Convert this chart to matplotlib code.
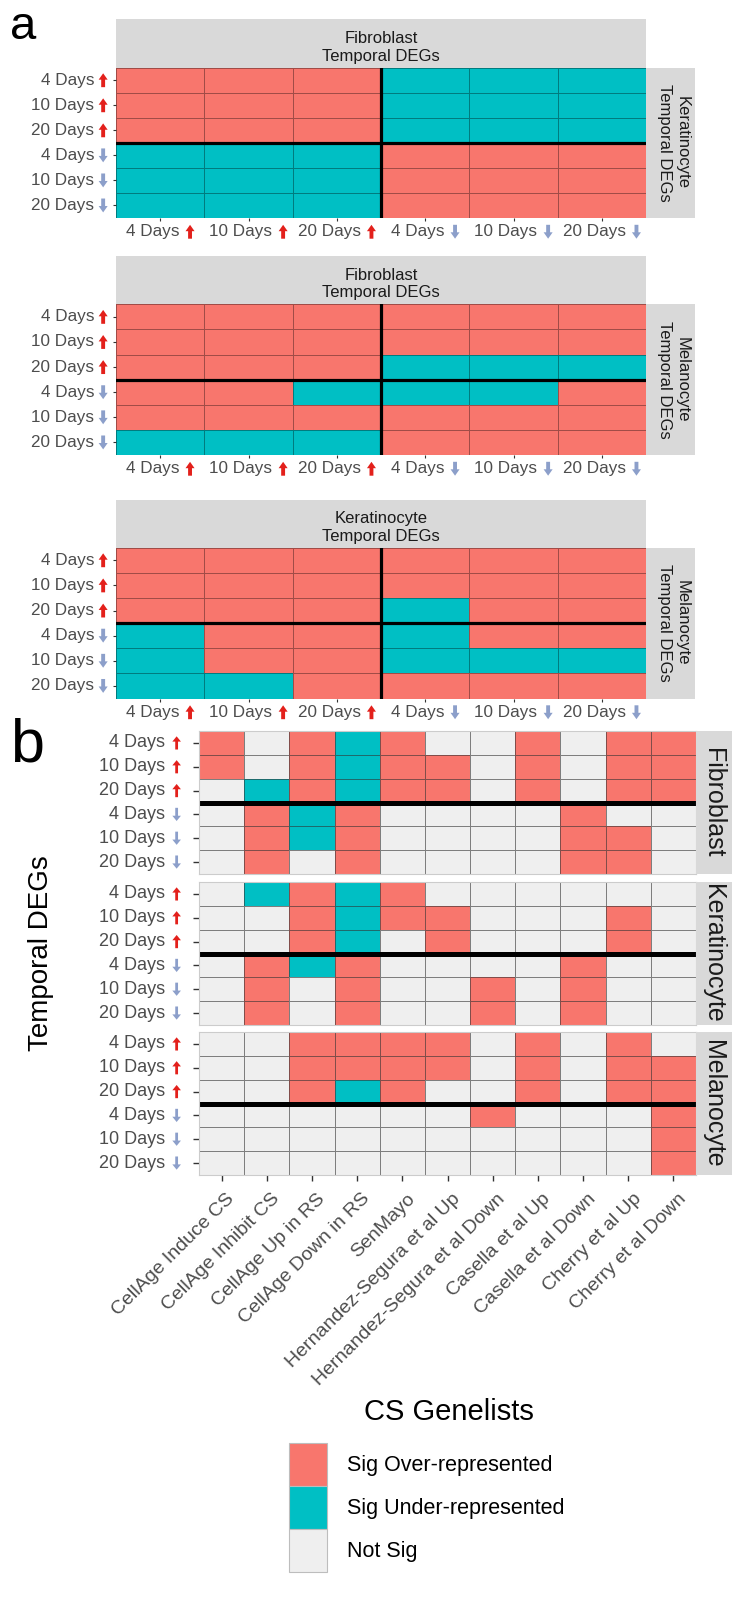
import matplotlib
matplotlib.use('Agg')
import numpy as np
import matplotlib.pyplot as plt
import matplotlib.transforms as mtrans
from matplotlib.colors import ListedColormap, BoundaryNorm
from matplotlib.offsetbox import TextArea, DrawingArea, HPacker, AnnotationBbox
from matplotlib.patches import Polygon, Patch

plt.rcParams['font.family'] = ['Liberation Sans', 'DejaVu Sans']

# ---- data ----
time_labels = ['4 Days', '10 Days', '20 Days', '4 Days', '10 Days', '20 Days']
time_dirs = ['up', 'up', 'up', 'down', 'down', 'down']

# 1 = Sig Over-represented, -1 = Sig Under-represented, 0 = Not Sig
fib_vs_ker = [
    [1, 1, 1, -1, -1, -1],
    [1, 1, 1, -1, -1, -1],
    [1, 1, 1, -1, -1, -1],
    [-1, -1, -1, 1, 1, 1],
    [-1, -1, -1, 1, 1, 1],
    [-1, -1, -1, 1, 1, 1],
]
fib_vs_mel = [
    [1, 1, 1, 1, 1, 1],
    [1, 1, 1, 1, 1, 1],
    [1, 1, 1, -1, -1, -1],
    [1, 1, -1, -1, -1, 1],
    [1, 1, 1, 1, 1, 1],
    [-1, -1, -1, 1, 1, 1],
]
ker_vs_mel = [
    [1, 1, 1, 1, 1, 1],
    [1, 1, 1, 1, 1, 1],
    [1, 1, 1, -1, 1, 1],
    [-1, 1, 1, -1, 1, 1],
    [-1, 1, 1, -1, -1, -1],
    [-1, -1, 1, 1, 1, 1],
]
panel_a = [
    ('Fibroblast\nTemporal DEGs', 'Keratinocyte\nTemporal DEGs', fib_vs_ker),
    ('Fibroblast\nTemporal DEGs', 'Melanocyte\nTemporal DEGs', fib_vs_mel),
    ('Keratinocyte\nTemporal DEGs', 'Melanocyte\nTemporal DEGs', ker_vs_mel),
]

genelists = ['CellAge Induce CS', 'CellAge Inhibit CS', 'CellAge Up in RS',
             'CellAge Down in RS', 'SenMayo', 'Hernandez-Segura et al Up',
             'Hernandez-Segura et al Down', 'Casella et al Up', 'Casella et al Down',
             'Cherry et al Up', 'Cherry et al Down']
fibroblast_cs = [
    [1, 0, 1, -1, 1, 0, 0, 1, 0, 1, 1],
    [1, 0, 1, -1, 1, 1, 0, 1, 0, 1, 1],
    [0, -1, 1, -1, 1, 1, 0, 1, 0, 1, 1],
    [0, 1, -1, 1, 0, 0, 0, 0, 1, 0, 0],
    [0, 1, -1, 1, 0, 0, 0, 0, 1, 1, 0],
    [0, 1, 0, 1, 0, 0, 0, 0, 1, 1, 0],
]
keratinocyte_cs = [
    [0, -1, 1, -1, 1, 0, 0, 0, 0, 0, 0],
    [0, 0, 1, -1, 1, 1, 0, 0, 0, 1, 0],
    [0, 0, 1, -1, 0, 1, 0, 0, 0, 1, 0],
    [0, 1, -1, 1, 0, 0, 0, 0, 1, 0, 0],
    [0, 1, 0, 1, 0, 0, 1, 0, 1, 0, 0],
    [0, 1, 0, 1, 0, 0, 1, 0, 1, 0, 0],
]
melanocyte_cs = [
    [0, 0, 1, 1, 1, 1, 0, 1, 0, 1, 0],
    [0, 0, 1, 1, 1, 1, 0, 1, 0, 1, 1],
    [0, 0, 1, -1, 1, 0, 0, 1, 0, 1, 1],
    [0, 0, 0, 0, 0, 0, 1, 0, 0, 0, 1],
    [0, 0, 0, 0, 0, 0, 0, 0, 0, 0, 1],
    [0, 0, 0, 0, 0, 0, 0, 0, 0, 0, 1],
]
panel_b = [('Fibroblast', fibroblast_cs), ('Keratinocyte', keratinocyte_cs),
           ('Melanocyte', melanocyte_cs)]

legend_labels = ['Sig Over-represented', 'Sig Under-represented', 'Not Sig']
legend_colors = ['#F8766D', '#00BFC4', '#EFEFEF']

# ---- style ----
cmap = ListedColormap(['#00BFC4', '#EFEFEF', '#F8766D'])
norm = BoundaryNorm([-1.5, -0.5, 0.5, 1.5], 3)
tick_col = '#4D4D4D'
strip_bg = '#D9D9D9'
arrow_col = {'up': '#E3201B', 'down': '#8C9FCA'}

W, H = 732, 1598
fig = plt.figure(figsize=(W / 100, H / 100), dpi=100)


def rect(x0, y0, x1, y1):
    return [x0 / W, 1 - y1 / H, (x1 - x0) / W, (y1 - y0) / H]


def arrow_box(direction, h, hw, hh, sw):
    da = DrawingArea(hw, h, 0, 0)
    c = hw / 2
    pts = [(c - sw / 2, 0), (c + sw / 2, 0), (c + sw / 2, h - hh), (hw, h - hh),
           (c, h), (0, h - hh), (c - sw / 2, h - hh)]
    if direction == 'down':
        pts = [(x, h - y) for x, y in pts]
    da.add_artist(Polygon(pts, closed=True, fc=arrow_col[direction], ec='none'))
    return da


def time_label(ax, text, direction, xy, trans, xybox, align, fs, arrow, sep):
    ta = TextArea(text, textprops=dict(color=tick_col, fontsize=fs))
    pack = HPacker(children=[ta, arrow_box(direction, *arrow)], align='center', pad=0, sep=sep)
    ab = AnnotationBbox(pack, xy, xycoords=trans, xybox=xybox, boxcoords='offset points',
                        box_alignment=align, frameon=False, pad=0, annotation_clip=False)
    ax.add_artist(ab)


def strip_axes(box, text, fs, rot, tx=0.5, ty=0.5):
    sx = fig.add_axes(rect(*box))
    sx.set_facecolor(strip_bg)
    sx.set_xticks([])
    sx.set_yticks([])
    for s in sx.spines.values():
        s.set_visible(False)
    sx.text(tx, ty, text, ha='center', va='center', fontsize=fs, rotation=rot,
            color='#1A1A1A', linespacing=1.2, transform=sx.transAxes)
    return sx


n_up = time_dirs.count('up')

# ---- panel a ----
a_boxes = [(19.3, 67.7, 218.0), (256.0, 304.3, 455.0), (500.0, 547.7, 698.5)]
a_arrow = (10, 6.5, 4.6, 2.8)
for (top_lab, right_lab, mat), (s0, y0, y1) in zip(panel_a, a_boxes):
    ax = fig.add_axes(rect(116, y0, 646, y1))
    m = np.array(mat)
    ax.pcolormesh(m, cmap=cmap, norm=norm, edgecolors=(0, 0, 0, 0.35), linewidth=0.6)
    ax.set_xlim(0, m.shape[1])
    ax.set_ylim(m.shape[0], 0)
    ax.axhline(n_up, color='black', lw=2.3)
    ax.axvline(n_up, color='black', lw=2.3)
    for s in ax.spines.values():
        s.set_visible(False)
    centers = np.arange(len(time_labels)) + 0.5
    ax.set_xticks(centers)
    ax.set_yticks(centers)
    ax.set_xticklabels([])
    ax.set_yticklabels([])
    ax.tick_params(length=2.5, width=0.8, color='#333333')
    ty = mtrans.blended_transform_factory(ax.transAxes, ax.transData)
    tx = mtrans.blended_transform_factory(ax.transData, ax.transAxes)
    for i, (lab, d) in enumerate(zip(time_labels, time_dirs)):
        time_label(ax, lab, d, (0, i + 0.5), ty, (-6, 0), (1, 0.5), 12.3, a_arrow, 3)
        time_label(ax, lab, d, (i + 0.5, 0), tx, (0, -4.5), (0.5, 1), 12.3, a_arrow, 4.5)
    strip_axes((116, s0, 646, y0), top_lab, 12, 0, ty=0.42)
    strip_axes((646, y0, 695, y1), right_lab, 12, 270, tx=0.56)

fig.text(10 / W, 1 - 39 / H, 'a', fontsize=34, ha='left', va='baseline')

# ---- panel b ----
b_boxes = [(731.0, 874.0), (882.0, 1025.0), (1032.0, 1175.0)]
b_arrow = (9.5, 6.2, 3.8, 2.0)
for k, ((name, mat), (y0, y1)) in enumerate(zip(panel_b, b_boxes)):
    ax = fig.add_axes(rect(199, y0, 696, y1))
    m = np.array(mat)
    ax.pcolormesh(m, cmap=cmap, norm=norm, edgecolors=(0.2, 0.2, 0.2, 0.6), linewidth=0.7)
    ax.set_xlim(0, m.shape[1])
    ax.set_ylim(m.shape[0], 0)
    ax.axhline(n_up, color='black', lw=3.6)
    for s in ax.spines.values():
        s.set_color('#CCCCCC')
        s.set_linewidth(0.8)
    ax.set_yticks(np.arange(len(time_labels)) + 0.5)
    ax.set_yticklabels([])
    ax.tick_params(length=4.5, width=1.0, color='#333333')
    ty = mtrans.blended_transform_factory(ax.transAxes, ax.transData)
    for i, (lab, d) in enumerate(zip(time_labels, time_dirs)):
        time_label(ax, lab, d, (0, i + 0.5), ty, (-13, 0), (1, 0.5), 13, b_arrow, 5)
    if k == len(panel_b) - 1:
        ax.set_xticks(np.arange(len(genelists)) + 0.5)
        ax.set_xticklabels(genelists, rotation=45, ha='right', va='top',
                           rotation_mode='anchor', fontsize=14, color=tick_col)
        off = mtrans.ScaledTranslation(3 / 72, -3 / 72, fig.dpi_scale_trans)
        for t in ax.get_xticklabels():
            t.set_transform(t.get_transform() + off)
    else:
        ax.set_xticks([])
    strip_axes((696, y0, 732, y1), name, 18, 270, tx=0.47)

fig.text(41 / W, 1 - 953 / H, 'Temporal DEGs', rotation=90, ha='center', va='center',
         fontsize=20)
fig.text(10 / W, 1 - 762 / H, 'b', fontsize=44, ha='left', va='baseline')

# ---- legend ----
fig.text(449 / W, 1 - 1412 / H, 'CS Genelists', ha='center', va='center', fontsize=21)
handles = [Patch(facecolor=c, edgecolor='#BDBDBD', linewidth=0.8) for c in legend_colors]
fig.legend(handles, legend_labels, loc='upper left', bbox_to_anchor=(288.5 / W, 1 - 1442.6 / H),
           frameon=False, fontsize=15.5, handlelength=1.8, handleheight=2.7,
           labelspacing=0, handletextpad=0.9, borderpad=0, borderaxespad=0)

fig.savefig('out.png', dpi=100)
